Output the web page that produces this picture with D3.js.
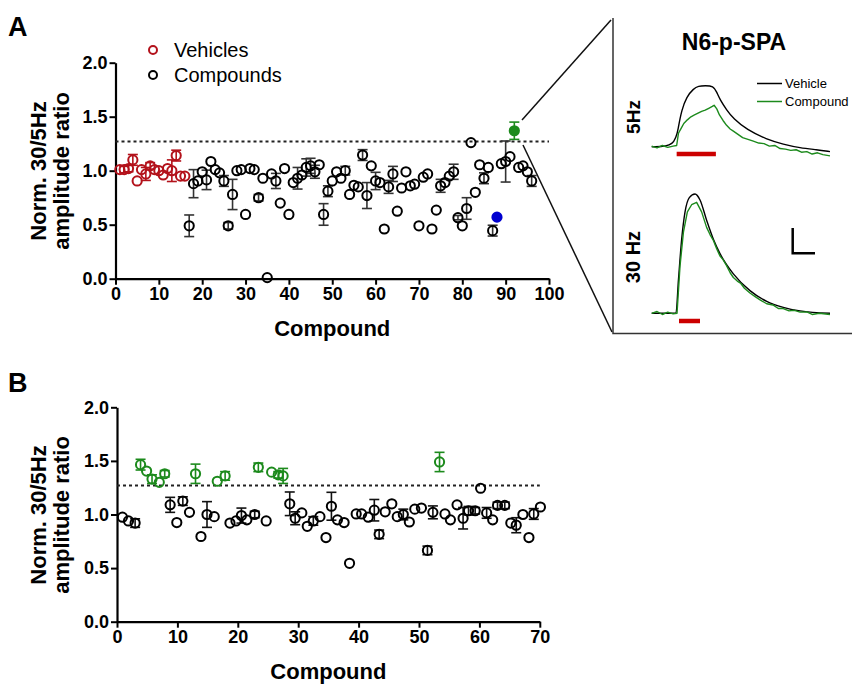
<!DOCTYPE html>
<html lang="en">
<head>
<meta charset="UTF-8">
<title>Compound screen</title>
<script src="https://cdn.jsdelivr.net/npm/d3@7/dist/d3.min.js"></script>
<style>
    body{
        margin:0;
        background:#fff;
    }
    text{
        font-family:"Liberation Sans", Arial, sans-serif;
    }
</style>
</head>
<body>
<script>

// ---- panel A data ----
var vehAx = [1,2,3,4,5,6,7,8,9,10,11,12,13,14,15,16];
var vehAy = [1.01,1.01,1.02,1.10,0.905,1.01,0.97,1.045,1.01,1.0,0.96,1.02,1.0,1.14,0.95,0.95];
var vehAe = [0,0.03,0.03,0.05,0,0,0.06,0.03,0,0,0,0,0.10,0.05,0,0];

var cmpAx = [17,18,19,20,21,22,23,24,25,26,27,28,29,30,31,32,33,34,35,36,37,38,39,40,
    41,42,43,44,45,46,47,48,49,50,51,52,53,54,55,56,57,58,59,60,61,62,63,64,65,66,67,68,
    69,70,71,72,73,74,75,76,77,78,79,80,81,82,83,84,85,86,87,89,90,91,93,94,95,96];
var cmpAy = [0.49,0.88,0.905,0.99,0.915,1.085,1.01,0.98,0.905,0.49,0.78,1.0,1.01,0.595,1.02,1.01,
    0.75,0.93,0.01,0.97,0.905,0.70,1.02,0.595,0.89,0.93,0.96,1.03,1.045,0.99,1.055,0.595,0.81,
    0.905,0.99,0.93,1.0,0.78,0.865,0.85,1.145,0.77,1.045,0.905,0.89,0.46,0.85,0.97,0.625,0.84,
    0.99,0.86,0.875,0.49,0.94,0.97,0.46,0.635,0.86,0.89,0.95,0.99,0.565,0.49,0.65,1.26,0.80,
    1.055,0.93,1.03,0.445,1.065,1.085,1.13,1.03,1.045,0.99,0.905];
var cmpAe = [0.10,0.13,0,0,0.09,0,0,0,0.05,0.03,0.14,0,0,0,0,0,
    0.03,0,0,0,0.07,0,0,0,0,0.10,0,0.08,0.07,0.06,0,0.10,0.05,
    0,0,0,0.04,0,0,0,0.05,0.12,0,0.08,0,0,0.06,0.07,0,0,
    0,0,0,0,0,0,0,0,0.06,0,0,0.07,0.02,0,0.10,0,0,
    0,0.05,0,0.05,0,0.19,0,0,0,0,0.05];

var hitAx = [92], hitAy = [1.37], hitAe = [0.08];     // green filled
var refAx = [88], refAy = [0.57];                    // blue filled

// ---- panel B data ----
var cmpBx = [0.9,1.9,3,8.8,9.9,10.9,12,13.9,14.9,16.1,18.7,19.7,20.6,21.5,22.8,24.7,28.6,29.5,
    30.6,31.5,32.5,33.6,34.6,35.5,36.5,37.6,38.5,39.6,40.5,41.6,42.6,43.4,44.4,45.5,46.4,47.4,
    48.4,49.3,50.4,51.4,52.3,54.3,55.2,56.3,57.3,58.2,59.3,60.2,61.2,62.2,63,64.2,65.2,66.1,
    67.2,68.2,69,70.1];
var cmpBy = [0.975,0.94,0.92,1.09,0.925,1.125,1.02,0.795,1.0,0.98,0.92,0.94,0.99,0.95,1.0,0.94,
    1.10,0.965,1.015,0.89,0.94,0.98,0.785,1.077,0.95,0.925,0.545,1.005,1.005,0.975,1.04,0.815,
    1.025,1.10,0.98,1.0,0.93,1.05,1.06,0.665,1.02,1.005,0.95,1.09,0.965,1.035,1.035,1.245,
    1.015,0.95,1.085,1.085,0.92,0.90,1.0,0.785,1.005,1.07];
var cmpBe = [0,0,0.04,0.07,0,0.04,0,0,0.12,0,0,0,0.07,0,0.03,0,0.11,0.06,
    0,0,0.04,0,0,0.13,0,0,0,0,0,0,0.10,0.04,0,0,0,0.05,
    0,0,0,0.04,0.06,0,0,0,0.10,0.04,0.03,0,0.05,0,0.03,0.03,0,0.07,
    0,0,0.05,0];

var hitBx = [3.9,4.9,5.8,7,7.9,13,16.6,17.9,23.4,25.6,26.7,27.5,53.4];
var hitBy = [1.465,1.405,1.33,1.30,1.38,1.38,1.31,1.36,1.44,1.395,1.37,1.36,1.49];
var hitBe = [0.05,0,0.04,0,0.03,0.09,0,0.04,0.04,0,0.03,0.07,0.09];

var threshold = 1.27;
var yTicks = [0,0.5,1.0,1.5,2.0];
var xTicksA = [0,10,20,30,40,50,60,70,80,90,100];
var xTicksB = [0,10,20,30,40,50,60,70];

// ---- inset traces (time in % of sweep, amplitude normalised to vehicle peak) ----
var veh5t = [0,13.1,15,16.8,19.6,23.4,26.2,30,34.6,36.4,38.3,42.1,45.8,53.3,64.5,73.8,83.2,92.5,100];
var veh5v = [0,0,0.33,0.60,0.82,0.95,0.995,1.0,0.995,0.90,0.77,0.60,0.46,0.28,0.12,0.04,-0.02,-0.05,-0.08];
var cmp5t = [0,3,6,9,12,14,15,16.5,18,20,22,24,26,28,30,32,34,35,36.5,38,40,42,44,46,48,51,54,57,
    60,63,66,69,72,75,78,81,84,87,90,93,96,100];
var cmp5v = [0.01,-0.02,0.02,-0.01,0.01,0.02,0.22,0.30,0.38,0.44,0.49,0.52,0.55,0.58,0.60,0.63,0.66,
    0.68,0.62,0.52,0.43,0.35,0.29,0.25,0.21,0.15,0.12,0.09,0.06,0.05,0.01,0.02,-0.03,-0.04,-0.06,
    -0.05,-0.09,-0.08,-0.12,-0.10,-0.13,-0.15];
var veh30t = [0,13.6,15,16.8,18.7,21.1,24.3,27.1,30.8,34.6,38.3,45.8,55.1,64.5,73.8,83.2,100];
var veh30v = [0,0,0.28,0.62,0.85,0.97,1.0,0.95,0.78,0.62,0.50,0.33,0.19,0.10,0.05,0.02,0];
var cmp30t = [0,3,6,9,12,14.2,15.9,17.8,20,22.4,25.2,28,30.8,32.7,34.6,36.5,38.3,40,42,44,45.8,48,
    50,52,55.1,58,61,64.5,68,71,73.8,77,80,83.2,87,90,94,100];
var cmp30v = [0,0.015,-0.01,0.01,-0.005,0,0.40,0.68,0.85,0.91,0.93,0.85,0.72,0.66,0.61,0.54,0.48,
    0.45,0.40,0.34,0.30,0.27,0.25,0.21,0.17,0.14,0.11,0.08,0.07,0.04,0.04,0.02,0.025,0.01,0.012,
    -0.01,0.0,-0.01];
var stim5 = [14,36];
var stim30 = [15.3,27.1];

var red = "#b3121b", green = "#1c8a1c", blue = "#0000d0";

var svg = d3.select("body")
        .append("svg")
        .attr("width", 852)
        .attr("height", 685);

function zip(xs, ys, es){
    return xs.map(function(d, i){ return {x: d, y: ys[i], e: es ? es[i] : 0}; });
}

// draws one scatter panel with axes
function panel(x, y, xTicks, titleY){
    var axY = svg.append("g")
            .attr("transform", "translate(" + x.range()[0] + ",0)")
            .call(d3.axisLeft(y).tickValues(yTicks).tickFormat(d3.format(".1f")).tickSize(6).tickSizeOuter(0).tickPadding(2));
    var axX = svg.append("g")
            .attr("transform", "translate(0," + y.range()[0] + ")")
            .call(d3.axisBottom(x).tickValues(xTicks).tickSize(6).tickSizeOuter(0).tickPadding(3));
    [axY, axX].forEach(function(a){
        a.select(".domain").attr("stroke-width", 2.2);
        a.selectAll(".tick line").attr("stroke-width", 2);
        a.selectAll("text").attr("font-size", "18px").attr("font-weight", "bold").attr("fill", "#000")
                .style("font-family", "'Liberation Sans', Arial, sans-serif");
    });

    svg.append("text")
            .attr("x", (x.range()[0] + x.range()[1]) / 2)
            .attr("y", y.range()[0] + 57)
            .attr("text-anchor", "middle")
            .attr("font-size", "22px").attr("font-weight", "bold")
            .text("Compound");

    var t = svg.append("text")
            .attr("transform", "translate(46," + titleY + ") rotate(-90)")
            .attr("text-anchor", "middle")
            .attr("font-size", "22px").attr("font-weight", "bold");
    t.append("tspan").attr("x", 0).attr("y", 0).text("Norm. 30/5Hz");
    t.append("tspan").attr("x", 0).attr("y", 23).text("amplitude ratio");

    svg.append("line")
            .attr("x1", x.range()[0]).attr("x2", x.range()[1])
            .attr("y1", y(threshold)).attr("y2", y(threshold))
            .attr("stroke", "#222").attr("stroke-width", 2)
            .attr("stroke-dasharray", "3,3");
}

function points(data, x, y, color, filled, barColor){
    var g = svg.append("g");
    var eb = g.selectAll(".eb")
            .data(data.filter(function(d){ return d.e > 0; }))
            .enter().append("g")
            .attr("stroke", barColor || color)
            .attr("stroke-width", 1.6);
    eb.append("line")
            .attr("x1", function(d){ return x(d.x); })
            .attr("x2", function(d){ return x(d.x); })
            .attr("y1", function(d){ return y(d.y + d.e); })
            .attr("y2", function(d){ return y(d.y - d.e); });
    eb.selectAll(".cap")
            .data(function(d){ return [[d.x, d.y + d.e], [d.x, d.y - d.e]]; })
            .enter().append("line")
            .attr("x1", function(d){ return x(d[0]) - 5; })
            .attr("x2", function(d){ return x(d[0]) + 5; })
            .attr("y1", function(d){ return y(d[1]); })
            .attr("y2", function(d){ return y(d[1]); });
    g.selectAll("circle")
            .data(data)
            .enter().append("circle")
            .attr("cx", function(d){ return x(d.x); })
            .attr("cy", function(d){ return y(d.y); })
            .attr("r", 4.6)
            .attr("fill", filled ? color : "none")
            .attr("stroke", color)
            .attr("stroke-width", 2);
}

// ---- panel A ----
var xA = d3.scaleLinear().domain([0, 100]).range([115.5, 549]);
var yA = d3.scaleLinear().domain([0, 2]).range([278.7, 62.7]);
panel(xA, yA, xTicksA, 171);
points(zip(vehAx, vehAy, vehAe), xA, yA, red, false);
points(zip(cmpAx, cmpAy, cmpAe), xA, yA, "#000", false, "#333");
points(zip(refAx, refAy), xA, yA, blue, true);
points(zip(hitAx, hitAy, hitAe), xA, yA, green, true);

// legend
var leg = svg.append("g");
[["Vehicles", red], ["Compounds", "#000"]].forEach(function(d, i){
    leg.append("circle").attr("cx", 153).attr("cy", 50 + i * 25).attr("r", 4)
            .attr("fill", "none").attr("stroke", d[1]).attr("stroke-width", 2);
    leg.append("text").attr("x", 174).attr("y", 57 + i * 25)
            .attr("font-size", "20px").text(d[0]);
});

svg.append("text").attr("x", 8).attr("y", 36)
        .attr("font-size", "27px").attr("font-weight", "bold").text("A");
svg.append("text").attr("x", 8).attr("y", 392)
        .attr("font-size", "27px").attr("font-weight", "bold").text("B");

// ---- panel B ----
var xB = d3.scaleLinear().domain([0, 70]).range([117, 539.8]);
var yB = d3.scaleLinear().domain([0, 2]).range([621.7, 407.3]);
panel(xB, yB, xTicksB, 515);
points(zip(cmpBx, cmpBy, cmpBe), xB, yB, "#000", false, "#111");
points(zip(hitBx, hitBy, hitBe), xB, yB, green, false);

// ---- zoom connector and inset box ----
svg.append("line").attr("x1", 522).attr("y1", 120).attr("x2", 611).attr("y2", 20)
        .attr("stroke", "#111").attr("stroke-width", 1.5);
svg.append("line").attr("x1", 523).attr("y1", 145).attr("x2", 612).attr("y2", 332)
        .attr("stroke", "#111").attr("stroke-width", 1.5);
svg.append("path").attr("d", "M613,18 V333.5 H852")
        .attr("fill", "none").attr("stroke", "#333").attr("stroke-width", 1.5);

svg.append("text").attr("x", 734).attr("y", 50).attr("text-anchor", "middle")
        .attr("font-size", "23px").attr("font-weight", "bold").text("N6-p-SPA");

var xI = d3.scaleLinear().domain([0, 100]).range([651.7, 830]);
var y5 = d3.scaleLinear().domain([0, 1]).range([146.7, 85.7]);
var y30 = d3.scaleLinear().domain([0, 1]).range([313.3, 194]);

function trace(ts, vs, ys, color, curve){
    svg.append("path")
            .datum(ts.map(function(d, i){ return [d, vs[i]]; }))
            .attr("fill", "none").attr("stroke", color).attr("stroke-width", 1.4)
            .attr("stroke-linejoin", "round")
            .attr("d", d3.line().curve(curve).x(function(d){ return xI(d[0]); }).y(function(d){ return ys(d[1]); }));
}
trace(veh5t, veh5v, y5, "#000", d3.curveBasis);
trace(cmp5t, cmp5v, y5, green, d3.curveLinear);
trace(veh30t, veh30v, y30, "#000", d3.curveMonotoneX);
trace(cmp30t, cmp30v, y30, green, d3.curveLinear);

svg.append("line").attr("x1", xI(stim5[0])).attr("x2", xI(stim5[1]))
        .attr("y1", 154).attr("y2", 154).attr("stroke", "#cc0000").attr("stroke-width", 4.5);
svg.append("line").attr("x1", xI(stim30[0])).attr("x2", xI(stim30[1]))
        .attr("y1", 321).attr("y2", 321).attr("stroke", "#cc0000").attr("stroke-width", 4.5);

svg.append("text").attr("transform", "translate(640,117) rotate(-90)").attr("text-anchor", "middle")
        .attr("font-size", "19px").attr("font-weight", "bold").text("5Hz");
svg.append("text").attr("transform", "translate(640,257) rotate(-90)").attr("text-anchor", "middle")
        .attr("font-size", "20px").attr("font-weight", "bold").text("30 Hz");

// inset legend
[["Vehicle", "#000"], ["Compound", green]].forEach(function(d, i){
    svg.append("line").attr("x1", 757).attr("x2", 782).attr("y1", 83.5 + i * 18).attr("y2", 83.5 + i * 18)
            .attr("stroke", d[1]).attr("stroke-width", 1.5);
    svg.append("text").attr("x", 785).attr("y", 88 + i * 18).attr("font-size", "13px").text(d[0]);
});

// scale bar
svg.append("path").attr("d", "M792.7,228 V253.3 H815")
        .attr("fill", "none").attr("stroke", "#000").attr("stroke-width", 2.5);

</script>
</body>
</html>
